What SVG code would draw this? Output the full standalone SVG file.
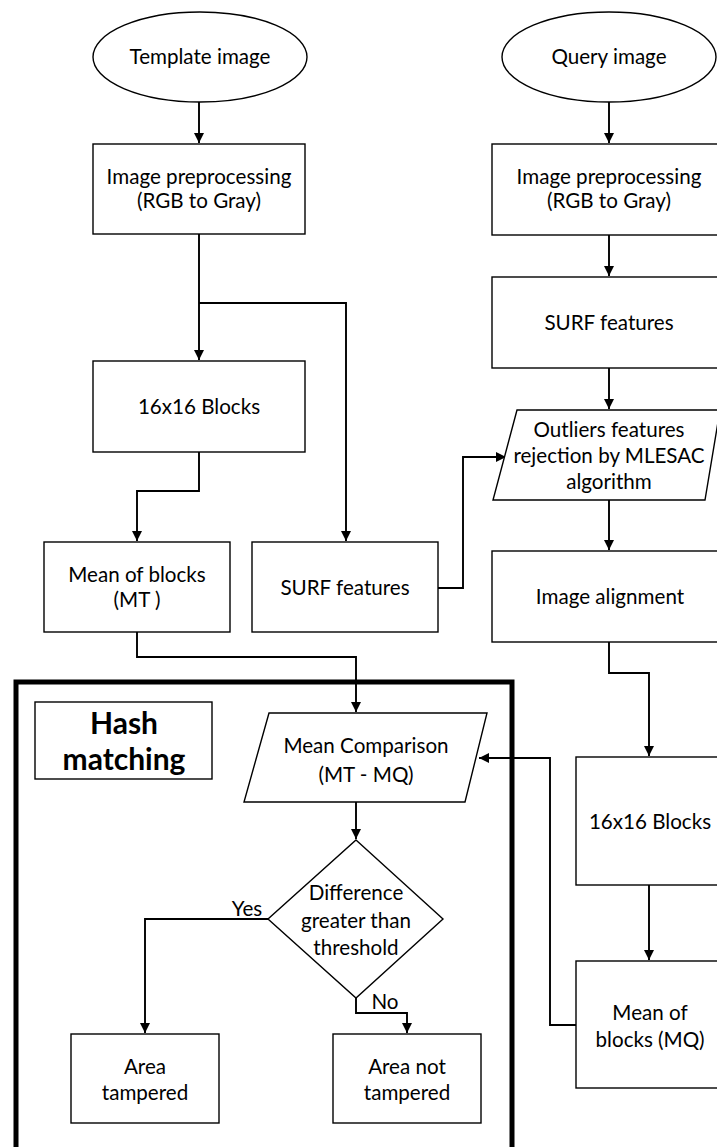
<svg xmlns="http://www.w3.org/2000/svg" width="717" height="1147" viewBox="0 0 717 1147">
<style>
.n{fill:#fff;stroke:#000;stroke-width:1.4}
.t{font-family:Lato,"Open Sans",sans-serif;font-size:20.6px;fill:#000;text-anchor:middle}
.b{font-family:Lato,"Open Sans",sans-serif;font-size:30px;font-weight:bold;fill:#000;text-anchor:middle}
.c{fill:none;stroke:#000;stroke-width:1.9}
</style>
<defs>
<marker id="ah" markerWidth="10" markerHeight="10" refX="10" refY="5" orient="auto" markerUnits="userSpaceOnUse" viewBox="0 0 10 10">
<path d="M0,0 L10,5 L0,10 Z" fill="#000"/>
</marker>
</defs>
<rect width="717" height="1147" fill="#fff"/>

<g id="hash-container"><rect x="16" y="682" width="496" height="480" fill="none" stroke="#000" stroke-width="5"/></g>

<g id="connectors">
<path class="c" d="M199,102 V143" marker-end="url(#ah)"/>
<path class="c" d="M609,102 V143" marker-end="url(#ah)"/>
<path class="c" d="M199,234 V360" marker-end="url(#ah)"/>
<path class="c" d="M199,303 H346 V541" marker-end="url(#ah)"/>
<path class="c" d="M199,452 V491 H137 V541" marker-end="url(#ah)"/>
<path class="c" d="M438,588 H463 V457 H506" marker-end="url(#ah)"/>
<path class="c" d="M609,235 V276" marker-end="url(#ah)"/>
<path class="c" d="M609,368 V409" marker-end="url(#ah)"/>
<path class="c" d="M609,500 V550" marker-end="url(#ah)"/>
<path class="c" d="M609,642 V673 H649 V756" marker-end="url(#ah)"/>
<path class="c" d="M649,885 V960" marker-end="url(#ah)"/>
<path class="c" d="M576,1025 H550 V758 H479" marker-end="url(#ah)"/>
<path class="c" d="M137,632 V657 H356 V712" marker-end="url(#ah)"/>
<path class="c" d="M356,802 V839" marker-end="url(#ah)"/>
<path class="c" d="M268,919 H145 V1033" marker-end="url(#ah)"/>
<path class="c" d="M356,998 V1013 H407 V1033" marker-end="url(#ah)"/>
<text class="t" x="247" y="916">Yes</text>
<text class="t" x="385" y="1009">No</text>
</g>

<g id="template-image"><ellipse class="n" cx="200" cy="57" rx="107" ry="45"/><text class="t" x="200" y="64">Template image</text></g>
<g id="query-image"><ellipse class="n" cx="609" cy="57" rx="107" ry="45"/><text class="t" x="609" y="64">Query image</text></g>

<g id="preproc-left"><rect class="n" x="93" y="144" width="212" height="90"/><text class="t" x="199" y="184">Image preprocessing</text><text class="t" x="199" y="208">(RGB to Gray)</text></g>
<g id="preproc-right"><rect class="n" x="492" y="144" width="230" height="91"/><text class="t" x="609" y="184">Image preprocessing</text><text class="t" x="609" y="208">(RGB to Gray)</text></g>

<g id="blocks-left"><rect class="n" x="93" y="361" width="212" height="91"/><text class="t" x="199" y="414">16x16 Blocks</text></g>
<g id="surf-right"><rect class="n" x="492" y="277" width="230" height="91"/><text class="t" x="609" y="330">SURF features</text></g>
<g id="mlesac"><polygon class="n" points="517,410 720,410 705,500 493,500"/><text class="t" x="609" y="437">Outliers features</text><text class="t" x="609" y="463">rejection by MLESAC</text><text class="t" x="609" y="489">algorithm</text></g>

<g id="mean-mt"><rect class="n" x="44" y="542" width="186" height="90"/><text class="t" x="137" y="582">Mean of blocks</text><text class="t" x="137" y="607">(MT )</text></g>
<g id="surf-left"><rect class="n" x="252" y="542" width="186" height="90"/><text class="t" x="345" y="595">SURF features</text></g>
<g id="alignment"><rect class="n" x="492" y="551" width="230" height="91"/><text class="t" x="610" y="604">Image alignment</text></g>

<g id="hash-label"><rect class="n" x="35" y="702" width="177" height="77"/><text class="b" x="124" y="734">Hash</text><text class="b" x="124" y="770">matching</text></g>
<g id="mean-comparison"><polygon class="n" points="269,713 487,713 465,802 244,802"/><text class="t" x="366" y="753">Mean Comparison</text><text class="t" x="366" y="782">(MT - MQ)</text></g>
<g id="decision"><polygon class="n" points="356,840 443,919 356,998 268,919"/><text class="t" x="356" y="900">Difference</text><text class="t" x="356" y="928">greater than</text><text class="t" x="356" y="955">threshold</text></g>

<g id="blocks-right"><rect class="n" x="576" y="757" width="146" height="128"/><text class="t" x="650" y="829">16x16 Blocks</text></g>
<g id="mean-mq"><rect class="n" x="576" y="961" width="146" height="127"/><text class="t" x="650" y="1020">Mean of</text><text class="t" x="650" y="1047">blocks (MQ)</text></g>

<g id="area-tampered"><rect class="n" x="71" y="1034" width="148" height="89"/><text class="t" x="145" y="1074">Area</text><text class="t" x="145" y="1100">tampered</text></g>
<g id="area-not-tampered"><rect class="n" x="333" y="1034" width="148" height="89"/><text class="t" x="407" y="1074">Area not</text><text class="t" x="407" y="1100">tampered</text></g>
</svg>
